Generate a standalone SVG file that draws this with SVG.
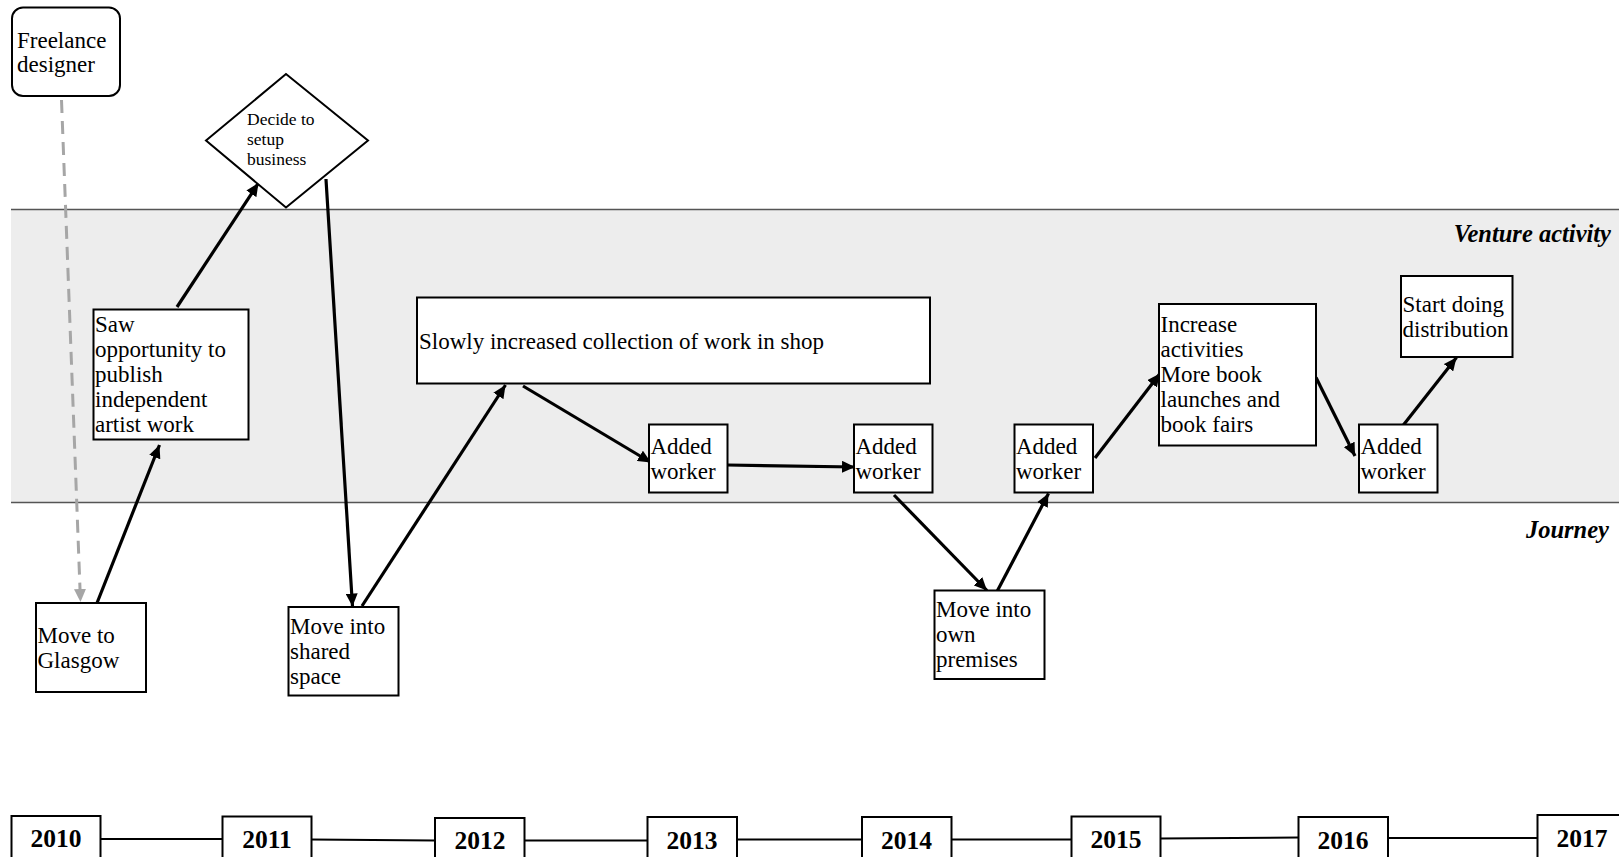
<svg xmlns="http://www.w3.org/2000/svg" width="1619" height="857" viewBox="0 0 1619 857">
  <style>
    .box { fill: #fff; stroke: #000; stroke-width: 2; }
    .t { font-family: "Liberation Serif", "Times New Roman", serif; font-size: 23px; fill: #000; }
    .ts { font-family: "Liberation Serif", "Times New Roman", serif; font-size: 17.5px; fill: #000; }
    .lane { font-family: "Liberation Serif", "Times New Roman", serif; font-size: 24.5px; font-weight: bold; font-style: italic; fill: #000; }
    .yr { font-family: "Liberation Serif", "Times New Roman", serif; font-size: 25.5px; font-weight: bold; fill: #000; }
    .edge { stroke: #000; stroke-width: 3.2; fill: none; marker-end: url(#arr); }
    .dash { stroke: #a6a6a6; stroke-width: 3; fill: none; stroke-dasharray: 13 8; marker-end: url(#arrg); }
    .tl { stroke: #000; stroke-width: 2; fill: none; }
  </style>
  <defs>
    <marker id="arr" markerUnits="userSpaceOnUse" markerWidth="14" markerHeight="12" refX="13" refY="6" orient="auto">
      <path d="M0,0 L13,6 L0,12 z" fill="#000"/>
    </marker>
    <marker id="arrg" markerUnits="userSpaceOnUse" markerWidth="14" markerHeight="12" refX="13" refY="6" orient="auto">
      <path d="M0,0 L13,6 L0,12 z" fill="#a6a6a6"/>
    </marker>
  </defs>

  <rect width="1619" height="857" fill="#fff"/>

  <!-- venture activity lane -->
  <g id="lane">
    <rect x="11" y="209.5" width="1608" height="293" fill="#ededed"/>
    <line x1="11" y1="209.5" x2="1619" y2="209.5" stroke="#555" stroke-width="1.5"/>
    <line x1="11" y1="502.5" x2="1619" y2="502.5" stroke="#555" stroke-width="1.5"/>
    <text class="lane" x="1611" y="242" text-anchor="end">Venture activity</text>
    <text class="lane" x="1609" y="538" text-anchor="end">Journey</text>
  </g>

  <!-- connectors -->
  <g id="connectors">
    <line class="dash" x1="61.5" y1="100" x2="80.5" y2="602"/>
    <line class="edge" x1="97" y1="603" x2="159.5" y2="445"/>
    <line class="edge" x1="177" y1="307" x2="258.5" y2="183"/>
    <line class="edge" x1="326" y1="179" x2="352.5" y2="606.5"/>
    <line class="edge" x1="362" y1="606" x2="505.5" y2="385"/>
    <line class="edge" x1="523" y1="386" x2="651" y2="462.5"/>
    <line class="edge" x1="727.5" y1="465" x2="855" y2="467"/>
    <line class="edge" x1="894" y1="495" x2="987" y2="590.5"/>
    <line class="edge" x1="997" y1="591.5" x2="1048.5" y2="493.5"/>
    <line class="edge" x1="1095" y1="458" x2="1160" y2="373.5"/>
    <line class="edge" x1="1316" y1="377.5" x2="1355" y2="456"/>
    <line class="edge" x1="1403" y1="425.5" x2="1456.5" y2="357.5"/>
  </g>

  <g id="freelance">
    <rect class="box" x="12" y="7.5" width="108" height="88.5" rx="11" ry="11"/>
    <text class="t" x="17" y="47.5">Freelance</text>
    <text class="t" x="17" y="72">designer</text>
  </g>

  <g id="decide">
    <polygon class="box" points="206,140.5 286,74 368,140.5 286,207.5"/>
    <text class="ts" x="247" y="125">Decide to</text>
    <text class="ts" x="247" y="145">setup</text>
    <text class="ts" x="247" y="165">business</text>
  </g>

  <g id="saw">
    <rect class="box" x="93.5" y="309.5" width="155" height="130"/>
    <text class="t" x="95" y="332">Saw</text>
    <text class="t" x="95" y="357">opportunity to</text>
    <text class="t" x="95" y="382">publish</text>
    <text class="t" x="95" y="407">independent</text>
    <text class="t" x="95" y="432">artist work</text>
  </g>

  <g id="glasgow">
    <rect class="box" x="36" y="603" width="110" height="89"/>
    <text class="t" x="37.5" y="643">Move to</text>
    <text class="t" x="37.5" y="668">Glasgow</text>
  </g>

  <g id="shared">
    <rect class="box" x="288.5" y="607" width="110" height="88.5"/>
    <text class="t" x="290" y="634">Move into</text>
    <text class="t" x="290" y="659">shared</text>
    <text class="t" x="290" y="684">space</text>
  </g>

  <g id="collection">
    <rect class="box" x="417" y="297.5" width="513" height="86"/>
    <text class="t" x="419" y="348.5">Slowly increased collection of work in shop</text>
  </g>

  <g id="worker1">
    <rect class="box" x="649" y="424.5" width="78.5" height="68"/>
    <text class="t" x="650.5" y="454">Added</text>
    <text class="t" x="650.5" y="479">worker</text>
  </g>

  <g id="worker2">
    <rect class="box" x="854" y="424.5" width="78.5" height="68"/>
    <text class="t" x="855.5" y="454">Added</text>
    <text class="t" x="855.5" y="479">worker</text>
  </g>

  <g id="premises">
    <rect class="box" x="934.5" y="590.5" width="110" height="88.5"/>
    <text class="t" x="936" y="617">Move into</text>
    <text class="t" x="936" y="642">own</text>
    <text class="t" x="936" y="667">premises</text>
  </g>

  <g id="worker3">
    <rect class="box" x="1014.5" y="424.5" width="78.5" height="68"/>
    <text class="t" x="1016" y="454">Added</text>
    <text class="t" x="1016" y="479">worker</text>
  </g>

  <g id="increase">
    <rect class="box" x="1159" y="304" width="157" height="141.5"/>
    <text class="t" x="1160.5" y="332">Increase</text>
    <text class="t" x="1160.5" y="357">activities</text>
    <text class="t" x="1160.5" y="382">More book</text>
    <text class="t" x="1160.5" y="407">launches and</text>
    <text class="t" x="1160.5" y="432">book fairs</text>
  </g>

  <g id="worker4">
    <rect class="box" x="1359" y="424.5" width="78.5" height="68"/>
    <text class="t" x="1360.5" y="454">Added</text>
    <text class="t" x="1360.5" y="479">worker</text>
  </g>

  <g id="distribution">
    <rect class="box" x="1401" y="276" width="111.5" height="81"/>
    <text class="t" x="1402.5" y="311.5">Start doing</text>
    <text class="t" x="1402.5" y="336.5">distribution</text>
  </g>

  <!-- year axis -->
  <g id="timeline">
    <line class="tl" x1="100" y1="839" x2="223" y2="839"/>
    <line class="tl" x1="311" y1="839.5" x2="435" y2="840.5"/>
    <line class="tl" x1="524.5" y1="840.5" x2="647.5" y2="840.5"/>
    <line class="tl" x1="737" y1="839.5" x2="862" y2="839.5"/>
    <line class="tl" x1="951" y1="839.5" x2="1071.5" y2="839.5"/>
    <line class="tl" x1="1160" y1="838.5" x2="1298.5" y2="837.5"/>
    <line class="tl" x1="1388" y1="838" x2="1537.5" y2="838"/>
  </g>
  <g id="y2010"><rect class="box" x="11.5" y="816" width="89" height="50"/><text class="yr" x="56" y="847" text-anchor="middle">2010</text></g>
  <g id="y2011"><rect class="box" x="222.5" y="816.5" width="89" height="50"/><text class="yr" x="267" y="847.5" text-anchor="middle">2011</text></g>
  <g id="y2012"><rect class="box" x="435" y="818" width="89.5" height="50"/><text class="yr" x="480" y="849" text-anchor="middle">2012</text></g>
  <g id="y2013"><rect class="box" x="647.5" y="817" width="89.5" height="50"/><text class="yr" x="692" y="848.5" text-anchor="middle">2013</text></g>
  <g id="y2014"><rect class="box" x="862" y="817" width="89.5" height="50"/><text class="yr" x="906.5" y="848.5" text-anchor="middle">2014</text></g>
  <g id="y2015"><rect class="box" x="1071.5" y="816.5" width="89" height="50"/><text class="yr" x="1116" y="848" text-anchor="middle">2015</text></g>
  <g id="y2016"><rect class="box" x="1298.5" y="817" width="89.5" height="50"/><text class="yr" x="1343" y="848.5" text-anchor="middle">2016</text></g>
  <g id="y2017"><rect class="box" x="1537.5" y="815" width="100" height="50"/><text class="yr" x="1582" y="846.5" text-anchor="middle">2017</text></g>
</svg>
